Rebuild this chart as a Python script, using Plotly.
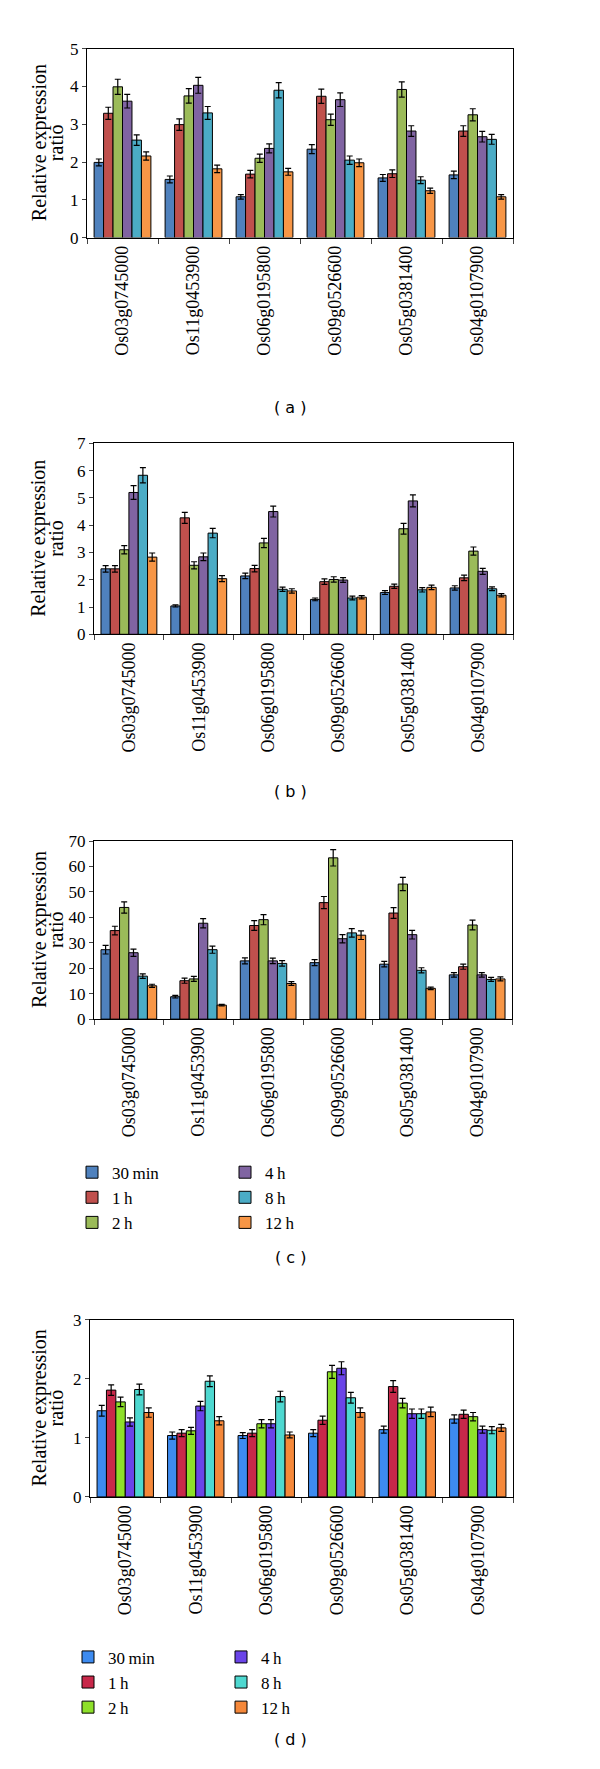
import plotly.graph_objects as go

genes = ["Os03g0745000", "Os11g0453900", "Os06g0195800",
         "Os09g0526600", "Os05g0381400", "Os04g0107900"]
times = ["30\u2009min", "1\u2009h", "2\u2009h", "4\u2009h", "8\u2009h", "12\u2009h"]

# rows = time points (30 min, 1 h, 2 h, 4 h, 8 h, 12 h); columns = genes
a_mean = [[1.99, 1.54, 1.08, 2.34, 1.58, 1.66],
          [3.29, 2.99, 1.68, 3.74, 1.69, 2.82],
          [3.99, 3.75, 2.10, 3.12, 3.92, 3.25],
          [3.61, 4.03, 2.36, 3.65, 2.82, 2.67],
          [2.58, 3.30, 3.90, 2.05, 1.52, 2.60],
          [2.16, 1.82, 1.74, 1.98, 1.24, 1.08]]
a_err = [[0.09, 0.09, 0.06, 0.12, 0.09, 0.10],
         [0.16, 0.15, 0.10, 0.19, 0.10, 0.14],
         [0.20, 0.19, 0.11, 0.15, 0.20, 0.16],
         [0.18, 0.21, 0.12, 0.18, 0.14, 0.14],
         [0.14, 0.17, 0.20, 0.11, 0.09, 0.13],
         [0.11, 0.10, 0.09, 0.10, 0.07, 0.06]]

b_mean = [[2.40, 1.04, 2.14, 1.28, 1.53, 1.70],
          [2.40, 4.27, 2.41, 1.93, 1.76, 2.07],
          [3.10, 2.53, 3.35, 2.01, 3.87, 3.05],
          [5.20, 2.84, 4.50, 1.99, 4.89, 2.31],
          [5.83, 3.71, 1.65, 1.33, 1.63, 1.67],
          [2.83, 2.04, 1.59, 1.36, 1.72, 1.43]]
b_err = [[0.12, 0.04, 0.10, 0.05, 0.07, 0.08],
         [0.12, 0.20, 0.12, 0.10, 0.08, 0.10],
         [0.15, 0.13, 0.17, 0.10, 0.20, 0.15],
         [0.25, 0.14, 0.20, 0.09, 0.22, 0.11],
         [0.28, 0.17, 0.08, 0.07, 0.08, 0.07],
         [0.15, 0.11, 0.08, 0.06, 0.08, 0.06]]

c_mean = [[27.3, 8.8, 22.9, 22.2, 21.6, 17.4],
          [34.8, 15.1, 36.8, 45.8, 41.7, 20.6],
          [43.9, 15.8, 39.1, 63.4, 53.1, 37.0],
          [26.1, 37.7, 22.9, 31.6, 33.2, 17.4],
          [16.9, 27.3, 21.9, 33.9, 19.2, 15.6],
          [13.1, 5.5, 14.0, 33.0, 12.1, 15.8]]
c_err = [[1.7, 0.5, 1.2, 1.2, 1.1, 0.9],
         [1.7, 1.0, 1.9, 2.4, 2.1, 1.0],
         [2.2, 1.0, 2.0, 3.2, 2.6, 1.9],
         [1.4, 1.8, 1.1, 1.6, 1.7, 0.9],
         [0.9, 1.4, 1.1, 1.7, 1.0, 0.8],
         [0.6, 0.3, 0.7, 1.7, 0.5, 0.8]]

d_mean = [[1.46, 1.04, 1.04, 1.08, 1.14, 1.32],
          [1.81, 1.08, 1.08, 1.30, 1.87, 1.40],
          [1.61, 1.12, 1.24, 2.12, 1.59, 1.36],
          [1.27, 1.54, 1.24, 2.18, 1.41, 1.14],
          [1.82, 1.96, 1.70, 1.68, 1.41, 1.13],
          [1.43, 1.29, 1.05, 1.43, 1.44, 1.17]]
d_err = [[0.09, 0.06, 0.05, 0.06, 0.06, 0.07],
         [0.09, 0.06, 0.06, 0.07, 0.10, 0.07],
         [0.08, 0.06, 0.07, 0.11, 0.08, 0.07],
         [0.07, 0.08, 0.07, 0.11, 0.08, 0.06],
         [0.09, 0.09, 0.09, 0.09, 0.08, 0.06],
         [0.08, 0.07, 0.05, 0.08, 0.08, 0.06]]

colors_abc = ["#4F81BD", "#C0504D", "#9BBB59", "#8064A2", "#4BACC6", "#F79646"]
colors_d = ["#3D8BF0", "#C8284A", "#8EE02A", "#6A44E8", "#4ED8D0", "#F5883A"]

W, H = 600, 1769
SERIF = "Liberation Serif"

panels = [
    # name, means, errs, colors, y max, dtick, (left,right,top,bottom px), legends
    ("a", a_mean, a_err, colors_abc, 5, 1, (79, 505, 32, 223), None),
    ("b", b_mean, b_err, colors_abc, 7, 1, (86, 505, 431, 624), None),
    ("c", c_mean, c_err, colors_abc, 70, 10, (86, 504, 833, 1013), ("legend", "legend2")),
    ("d", d_mean, d_err, colors_d, 3, 1, (82, 505, 1317, 1496), ("legend3", "legend4")),
]
caption_y = [383, 783, 1266, 1753]

fig = go.Figure()
layout = dict(
    width=W, height=H, margin=dict(l=0, r=0, t=0, b=0),
    paper_bgcolor="white", plot_bgcolor="white",
    barmode="group", bargap=0.2, bargroupgap=0,
    font=dict(family=SERIF, color="black", size=17),
    annotations=[],
)

for i, (name, means, errs, cols, ymax, dt, box, legs) in enumerate(panels):
    k = "" if i == 0 else str(i + 1)
    l, r, t, b = box
    for j, tname in enumerate(times):
        tr = dict(
            x=genes, y=means[j], name=tname,
            marker=dict(color=cols[j], line=dict(color="black", width=1)),
            error_y=dict(type="data", array=errs[j], visible=True,
                         color="black", thickness=1.2, width=3),
            xaxis="x" + k, yaxis="y" + k,
            offsetgroup=str(j),
        )
        if legs:
            tr["legend"] = legs[0] if j < 3 else legs[1]
            tr["legendgroup"] = name + str(j)
            tr["showlegend"] = True
        else:
            tr["showlegend"] = False
        fig.add_trace(go.Bar(**tr))
    layout["xaxis" + k] = dict(
        domain=[l / W, r / W], anchor="y" + k,
        type="category", tickson="boundaries", ticks="outside", ticklen=5,
        tickangle=-90, tickfont=dict(family=SERIF, size=18),
        showline=True, linecolor="black", linewidth=1, mirror=True,
        showgrid=False, zeroline=False,
    )
    layout["yaxis" + k] = dict(
        domain=[1 - b / H, 1 - t / H], anchor="x" + k,
        range=[0, ymax], dtick=dt, ticks="outside", ticklen=4,
        tickfont=dict(family=SERIF, size=17),
        showline=True, linecolor="black", linewidth=1, mirror=True,
        showgrid=False, zeroline=False,
    )
    ymid = 1 - (t + b) / 2 / H
    layout["annotations"].append(dict(
        text="Relative expression", x=31 / W, y=ymid, xref="paper", yref="paper",
        textangle=-90, showarrow=False, xanchor="center", yanchor="middle",
        font=dict(family=SERIF, size=20, color="black"),
    ))
    layout["annotations"].append(dict(
        text="ratio", x=48 / W, y=ymid, xref="paper", yref="paper",
        textangle=-90, showarrow=False, xanchor="center", yanchor="middle",
        font=dict(family=SERIF, size=20, color="black"),
    ))
    layout["annotations"].append(dict(
        text="( " + name + " )", x=282 / W, y=1 - caption_y[i] / H,
        xref="paper", yref="paper", showarrow=False,
        font=dict(family="DejaVu Sans", size=16, color="black"),
    ))

def leg(xpx, ytop):
    return dict(x=xpx / W, y=1 - ytop / H, xanchor="left", yanchor="top",
                bgcolor="rgba(0,0,0,0)", borderwidth=0,
                font=dict(family=SERIF, size=17, color="black"),
                tracegroupgap=0, orientation="v")

layout["legend"] = leg(64, 1150)
layout["legend2"] = leg(217, 1150)
layout["legend3"] = leg(60, 1640)
layout["legend4"] = leg(213, 1640)

fig.update_layout(**layout)
fig.write_html("out.html")
